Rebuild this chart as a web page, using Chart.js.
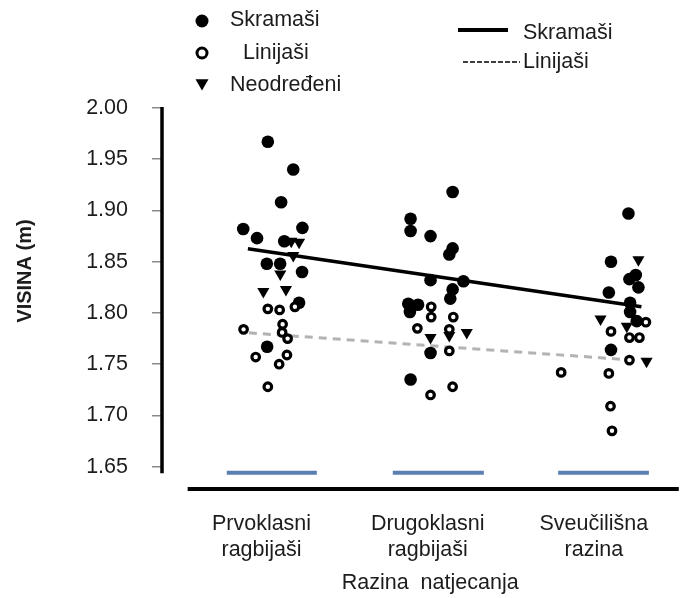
<!DOCTYPE html>
<html>
<head>
<meta charset="utf-8">
<script src="https://cdn.jsdelivr.net/npm/chart.js@4.4.0/dist/chart.umd.min.js"></script>
<style>
html,body{margin:0;padding:0;background:#fff;}
#wrap{width:686px;height:598px;position:relative;}
</style>
</head>
<body>
<div id="wrap"><canvas id="c"></canvas></div>
<script>
// ---------- DATA ----------
const categories = [["Prvoklasni","ragbijaši"],["Drugoklasni","ragbijaši"],["Sveučilišna","razina"]];
const categoryPositions = [1, 2, 3];
const yTicks = [1.65, 1.70, 1.75, 1.80, 1.85, 1.90, 1.95, 2.00];
const yTitle = "VISINA (m)";
const xTitle = "Razina  natjecanja";
const seriesNames = ["Skramaši", "Linijaši", "Neodređeni"];
const lineNames = ["Skramaši", "Linijaši"];

// Skramaši (filled circles): jittered category position and height (m)
const skramasiX = [0.978,1.131,1.058,0.830,0.913,1.186,1.077,0.972,1.052,1.184,1.166,0.974,
  2.090,1.837,1.837,1.957,2.090,2.070,1.957,2.155,2.090,2.076,1.823,1.882,1.833,1.957,1.837,
  3.148,3.043,3.192,3.154,3.208,3.030,3.158,3.158,3.198,3.043];
const skramasiY = [1.967,1.940,1.908,1.882,1.873,1.883,1.870,1.848,1.848,1.840,1.810,1.767,
  1.918,1.892,1.880,1.875,1.863,1.857,1.832,1.831,1.823,1.814,1.809,1.808,1.801,1.761,1.735,
  1.897,1.850,1.837,1.833,1.825,1.820,1.810,1.801,1.792,1.764];

// Linijaši (open circles)
const linijasiX = [1.141,0.978,1.049,0.832,1.067,1.064,1.097,0.905,1.093,1.046,0.978,
  1.961,1.961,2.094,1.878,2.070,2.070,2.090,1.957,
  3.253,3.043,3.154,3.214,3.154,2.743,3.030,3.040,3.049];
const linijasiY = [1.806,1.804,1.803,1.784,1.789,1.781,1.775,1.757,1.759,1.750,1.728,
  1.806,1.796,1.796,1.785,1.784,1.763,1.728,1.720,
  1.791,1.782,1.776,1.776,1.754,1.742,1.741,1.709,1.685];

// Neodređeni (triangles)
const neodredeniX = [1.119,1.166,1.131,1.053,0.951,1.087, 2.070,2.175,1.957, 3.208,2.980,3.138,3.257];
const neodredeniY = [1.870,1.869,1.856,1.838,1.821,1.823, 1.778,1.781,1.776, 1.852,1.794,1.787,1.753];

// Trend lines
const skramasiTrendX = [0.858, 3.226];
const skramasiTrendY = [1.8626, 1.806];
const linijasiTrendX = [0.864, 3.16];
const linijasiTrendY = [1.7806, 1.7542];

// Blue range markers under each category
const rangeStart = [0.731, 1.730, 2.725];
const rangeEnd = [1.273, 2.278, 3.271];
const rangeLevel = 1.644;

// ---------- BUILD ----------
const zip = (xs, ys) => xs.map((x, i) => ({x: x, y: ys[i]}));
const rangeData = [];
rangeStart.forEach((s, i) => {
  rangeData.push({x: s, y: rangeLevel}, {x: rangeEnd[i], y: rangeLevel});
  if (i < rangeStart.length - 1) rangeData.push({x: (rangeEnd[i] + rangeStart[i+1]) / 2, y: null});
});

const FONT = '"Liberation Sans", Arial, sans-serif';
const TXT = '#1c1c1c';
const FS = 21.5;
const LABEL_SHIFT = -0.06;

const overlay = {
  id: 'overlay',
  afterDraw(chart) {
    const ctx = chart.ctx;
    const xs = chart.scales.x, ys = chart.scales.y, ca = chart.chartArea;
    ctx.save();
    // y axis line
    ctx.strokeStyle = '#000';
    ctx.lineWidth = 3.5;
    ctx.beginPath();
    ctx.moveTo(ca.left - 1, ys.getPixelForValue(2.0) - 1);
    ctx.lineTo(ca.left - 1, ys.getPixelForValue(1.6437));
    ctx.stroke();
    // x axis line
    ctx.lineWidth = 4;
    ctx.beginPath();
    ctx.moveTo(xs.getPixelForValue(0.4955), ca.bottom + 1);
    ctx.lineTo(ca.right, ca.bottom + 1);
    ctx.stroke();
    // x title
    ctx.fillStyle = TXT;
    ctx.font = FS + 'px ' + FONT;
    ctx.textAlign = 'center';
    ctx.textBaseline = 'middle';
    ctx.fillText(xTitle, xs.getPixelForValue(2 - 0.045), 583);
    // y title
    ctx.font = 'bold 20px ' + FONT;
    ctx.translate(25, 271);
    ctx.rotate(-Math.PI / 2);
    ctx.fillText(yTitle, 0, 0);
    ctx.restore();

    // legends
    ctx.save();
    const H = Chart.helpers;
    ctx.fillStyle = '#000'; ctx.strokeStyle = '#000';
    ctx.beginPath(); ctx.arc(202, 21, 6.5, 0, Math.PI * 2); ctx.fill();
    ctx.fillStyle = '#fff'; ctx.lineWidth = 3;
    ctx.beginPath(); ctx.arc(202, 53, 5, 0, Math.PI * 2); ctx.fill(); ctx.stroke();
    ctx.fillStyle = '#000';
    H.drawPoint(ctx, {pointStyle: 'triangle', radius: 7.5, rotation: 180, borderWidth: 0}, 202, 83);
    ctx.font = FS + 'px ' + FONT;
    ctx.fillStyle = TXT;
    ctx.textAlign = 'left';
    ctx.textBaseline = 'middle';
    ctx.fillText(seriesNames[0], 230, 20);
    ctx.fillText(seriesNames[1], 243, 53);
    ctx.fillText(seriesNames[2], 230, 85);
    ctx.fillText(lineNames[0], 523, 33);
    ctx.fillText(lineNames[1], 523, 62);
    ctx.strokeStyle = '#000';
    ctx.lineWidth = 4;
    ctx.beginPath(); ctx.moveTo(458, 30); ctx.lineTo(508, 30); ctx.stroke();
    ctx.lineWidth = 1.5;
    ctx.setLineDash([5, 2]);
    ctx.beginPath(); ctx.moveTo(463, 62); ctx.lineTo(520, 62); ctx.stroke();
    ctx.restore();
  }
};

new Chart(document.getElementById('c'), {
  type: 'scatter',
  data: {
    datasets: [
      {label: seriesNames[1], data: zip(linijasiX, linijasiY), order: 0,
        pointStyle: 'circle', pointRadius: 3.8, borderWidth: 3.2,
        backgroundColor: '#fff', borderColor: '#000'},
      {label: seriesNames[2], data: zip(neodredeniX, neodredeniY), order: 1,
        pointStyle: 'triangle', pointRotation: 180, pointRadius: 7, borderWidth: 0,
        backgroundColor: '#000', borderColor: '#000'},
      {label: seriesNames[0], data: zip(skramasiX, skramasiY), order: 2,
        pointStyle: 'circle', pointRadius: 6.3, borderWidth: 0,
        backgroundColor: '#000', borderColor: '#000'},
      {label: lineNames[0] + ' trend', data: zip(skramasiTrendX, skramasiTrendY), order: 3,
        showLine: true, pointRadius: 0, borderColor: '#000', borderWidth: 3.5},
      {label: lineNames[1] + ' trend', data: zip(linijasiTrendX, linijasiTrendY), order: 4,
        showLine: true, pointRadius: 0, borderColor: '#b3b3b3', borderWidth: 3, borderDash: [8, 6]},
      {label: 'range', data: rangeData, order: 5, showLine: true, spanGaps: false,
        pointRadius: 0, borderColor: '#5b7fb1', borderWidth: 4}
    ]
  },
  options: {
    responsive: true,
    maintainAspectRatio: false,
    animation: false,
    layout: {padding: {top: 108, right: 0, bottom: 0, left: 0}},
    plugins: {legend: {display: false}, tooltip: {enabled: false}},
    scales: {
      x: {
        type: 'linear', min: 0.3472, max: 3.451,
        grid: {display: false, drawTicks: false},
        border: {display: false},
        afterBuildTicks: s => { s.ticks = categoryPositions.map(p => ({value: p + LABEL_SHIFT})); },
        ticks: {
          callback: (v, i) => categories[i],
          font: {family: FONT, size: FS, lineHeight: 1.2},
          color: TXT, padding: 23, maxRotation: 0, autoSkip: false
        },
        title: {display: false},
        afterFit: s => { s.height = 110; }
      },
      y: {
        type: 'linear', min: 1.6292, max: 2.0,
        afterBuildTicks: s => { s.ticks = yTicks.map(v => ({value: v})); },
        ticks: {callback: v => v.toFixed(2), font: {family: FONT, size: FS}, color: TXT, padding: 24},
        grid: {drawOnChartArea: false, drawTicks: true, tickLength: 11, color: '#8a8a8a', lineWidth: 1.5},
        border: {display: false},
        afterFit: s => { s.width = 163; }
      }
    }
  },
  plugins: [overlay]
});
</script>
</body>
</html>
